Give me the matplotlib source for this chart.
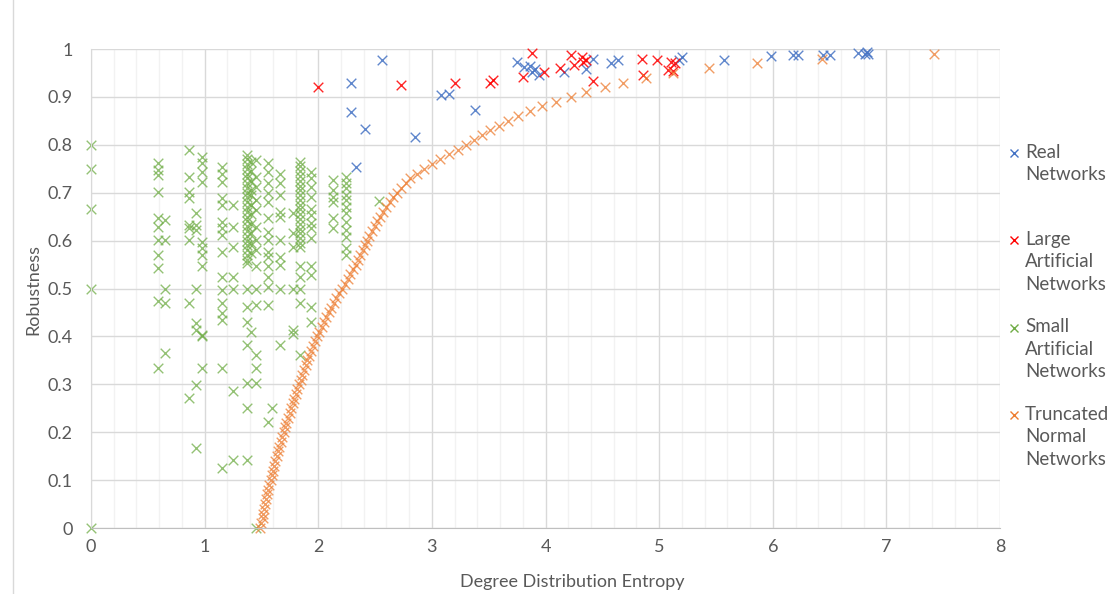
import matplotlib
matplotlib.use("Agg")
import matplotlib.pyplot as plt
from matplotlib.lines import Line2D

plt.rcParams['font.family'] = ['Lato', 'DejaVu Sans']

# Real networks
real_x = [2.29, 2.29, 2.33, 2.41, 2.56, 2.85, 3.08, 3.15, 3.38, 3.75, 3.81, 3.86,
          3.88, 3.91, 3.94, 4.16, 4.36, 4.42, 4.58, 4.64, 5.17, 5.20, 5.57, 5.98,
          6.18, 6.22, 6.44, 6.50, 6.75, 6.81, 6.83, 6.84]
real_y = [0.928, 0.869, 0.754, 0.834, 0.977, 0.816, 0.904, 0.907, 0.873, 0.972, 0.962, 0.964,
          0.953, 0.958, 0.946, 0.951, 0.958, 0.980, 0.970, 0.978, 0.977, 0.984, 0.977, 0.985,
          0.987, 0.987, 0.987, 0.987, 0.992, 0.990, 0.994, 0.989]

# Large artificial networks
large_x = [2.00, 2.73, 3.20, 3.51, 3.54, 3.80, 3.88, 3.99, 4.13, 4.22, 4.25, 4.32,
           4.33, 4.36, 4.42, 4.85, 4.86, 4.98, 5.08, 5.10, 5.12, 5.14]
large_y = [0.921, 0.925, 0.928, 0.928, 0.935, 0.942, 0.991, 0.951, 0.960, 0.987, 0.967, 0.984,
           0.973, 0.978, 0.934, 0.980, 0.946, 0.977, 0.956, 0.973, 0.955, 0.970]

# Small artificial networks, grouped by entropy column
small_x = [0.00, 0.59, 0.65, 0.86, 0.92, 0.98, 1.15, 1.25, 1.37, 1.41, 1.45, 1.56,
           1.59, 1.66, 1.78, 1.84, 1.94, 2.13, 2.24, 2.53]
small_y = [
    [0.80, 0.75, 0.667, 0.50, 0.0],
    [0.761, 0.747, 0.737, 0.702, 0.647, 0.629, 0.601, 0.570, 0.542, 0.473, 0.333],
    [0.643, 0.601, 0.50, 0.469, 0.365],
    [0.789, 0.733, 0.702, 0.688, 0.633, 0.626, 0.601, 0.469, 0.271],
    [0.657, 0.633, 0.622, 0.50, 0.427, 0.413, 0.299, 0.166],
    [0.775, 0.761, 0.744, 0.723, 0.598, 0.584, 0.570, 0.546, 0.403, 0.40, 0.333],
    [0.754, 0.740, 0.723, 0.688, 0.674, 0.639, 0.626, 0.612, 0.577, 0.525, 0.497, 0.469,
     0.448, 0.434, 0.333, 0.125],
    [0.674, 0.629, 0.587, 0.525, 0.50, 0.285, 0.142],
    [0.778, 0.77, 0.76, 0.75, 0.74, 0.73, 0.72, 0.71, 0.70, 0.69, 0.68, 0.67, 0.66, 0.65,
     0.64, 0.63, 0.62, 0.61, 0.60, 0.59, 0.58, 0.57, 0.56, 0.553, 0.50, 0.462, 0.431,
     0.382, 0.302, 0.25, 0.142],
    [0.765, 0.745, 0.725, 0.705, 0.695, 0.675, 0.655, 0.635, 0.615, 0.595, 0.575, 0.41],
    [0.768, 0.733, 0.712, 0.685, 0.664, 0.629, 0.601, 0.580, 0.546, 0.50, 0.466, 0.361,
     0.333, 0.302, 0.0],
    [0.761, 0.744, 0.720, 0.699, 0.681, 0.647, 0.619, 0.601, 0.577, 0.566, 0.546, 0.525,
     0.504, 0.466, 0.222],
    [0.25],
    [0.740, 0.720, 0.695, 0.660, 0.650, 0.601, 0.566, 0.549, 0.50, 0.382],
    [0.657, 0.615, 0.587, 0.50, 0.413, 0.406],
    [0.765, 0.755, 0.745, 0.735, 0.725, 0.715, 0.705, 0.695, 0.685, 0.675, 0.665, 0.655,
     0.645, 0.635, 0.625, 0.615, 0.605, 0.595, 0.587, 0.546, 0.525, 0.50, 0.469, 0.361],
    [0.744, 0.730, 0.712, 0.692, 0.667, 0.653, 0.636, 0.626, 0.605, 0.546, 0.528, 0.462, 0.431],
    [0.727, 0.706, 0.692, 0.681, 0.647, 0.626],
    [0.733, 0.720, 0.709, 0.695, 0.685, 0.671, 0.657, 0.639, 0.622, 0.608, 0.584, 0.570],
    [0.683],
]

# Truncated normal networks
trunc_x = [1.49, 1.50, 1.51, 1.515, 1.52, 1.53, 1.54, 1.55, 1.56, 1.57, 1.58, 1.59,
           1.60, 1.61, 1.62, 1.635, 1.645, 1.655, 1.67, 1.68, 1.695, 1.71, 1.72, 1.735,
           1.75, 1.76, 1.775, 1.79, 1.80, 1.815, 1.83, 1.845, 1.86, 1.875, 1.89, 1.905,
           1.92, 1.94, 1.955, 1.975, 1.99, 2.01, 2.03, 2.05, 2.07, 2.09, 2.11, 2.135,
           2.16, 2.185, 2.21, 2.235, 2.26, 2.28, 2.305, 2.33, 2.35, 2.37, 2.39, 2.41,
           2.43, 2.45, 2.47, 2.495, 2.52, 2.545, 2.57, 2.60, 2.63, 2.66, 2.69, 2.73,
           2.77, 2.81, 2.87, 2.93, 3.00, 3.07, 3.15, 3.23, 3.30, 3.37, 3.44, 3.51,
           3.59, 3.67, 3.76, 3.86, 3.97, 4.09, 4.22, 4.36, 4.52, 4.68, 4.88, 5.12,
           5.44, 5.86, 6.43, 7.42]
trunc_y = [0.00, 0.01, 0.02, 0.03, 0.04, 0.05, 0.06, 0.07, 0.08, 0.09, 0.10, 0.11,
           0.12, 0.13, 0.14, 0.15, 0.16, 0.17, 0.18, 0.19, 0.20, 0.21, 0.22, 0.23,
           0.24, 0.25, 0.26, 0.27, 0.28, 0.29, 0.30, 0.31, 0.32, 0.33, 0.34, 0.35,
           0.36, 0.37, 0.38, 0.39, 0.40, 0.41, 0.42, 0.43, 0.44, 0.45, 0.46, 0.47,
           0.48, 0.49, 0.50, 0.51, 0.52, 0.53, 0.54, 0.55, 0.56, 0.57, 0.58, 0.59,
           0.60, 0.61, 0.62, 0.63, 0.64, 0.65, 0.66, 0.67, 0.68, 0.69, 0.70, 0.71,
           0.72, 0.73, 0.74, 0.75, 0.76, 0.77, 0.78, 0.79, 0.80, 0.81, 0.82, 0.83,
           0.84, 0.85, 0.86, 0.87, 0.88, 0.89, 0.90, 0.91, 0.92, 0.93, 0.94, 0.95,
           0.96, 0.97, 0.98, 0.99]

labels = ["Real\nNetworks", "Large\nArtificial\nNetworks",
          "Small\nArtificial\nNetworks", "Truncated\nNormal\nNetworks"]
colors = ["#4472C4", "#FF0000", "#70AD47", "#ED7D31"]
text_color = "#595959"

sx, sy = [], []
for x, ys in zip(small_x, small_y):
    for y in ys:
        sx.append(x)
        sy.append(y)

fig = plt.figure(figsize=(11.1, 5.94), dpi=100)
ax = fig.add_axes([0.082, 0.1111, 0.819, 0.8064])

kw = dict(marker="x", s=48, linewidths=1.0, clip_on=False)
ax.scatter(real_x, real_y, color=colors[0], alpha=0.85, **kw)
ax.scatter(large_x, large_y, color=colors[1], alpha=0.85, **kw)
ax.scatter(sx, sy, color=colors[2], alpha=0.75, **kw)
ax.scatter(trunc_x, trunc_y, color=colors[3], alpha=0.75, **kw)

ax.set_xlim(0, 8)
ax.set_ylim(0, 1)
ax.set_xticks(range(0, 9))
ax.set_xticks([i * 0.2 for i in range(41)], minor=True)
ax.set_yticks([i / 10 for i in range(11)])
ax.set_yticklabels(["0", "0.1", "0.2", "0.3", "0.4", "0.5", "0.6", "0.7", "0.8", "0.9", "1"])
ax.grid(True, which="major", color="#d9d9d9", linewidth=1)
ax.grid(True, which="minor", axis="x", color="#f2f2f2", linewidth=1)
ax.set_axisbelow(True)
ax.tick_params(which="both", length=0, labelsize=13, colors=text_color)
ax.tick_params(axis="y", pad=13)
ax.tick_params(axis="x", pad=8)
for s in ["top", "right"]:
    ax.spines[s].set_visible(False)
ax.spines["bottom"].set_color("#bfbfbf")
ax.spines["left"].set_color("#d9d9d9")

ax.set_xlabel("Degree Distribution Entropy", fontsize=13, color=text_color)
ax.set_ylabel("Robustness", fontsize=13, color=text_color)
ax.xaxis.set_label_coords((572 - 91) / 909, -0.097)
ax.yaxis.set_label_coords(-0.055, 0.497)

# legend drawn by hand so the marker sits on the first text line
W, H = 1110, 594
entry_tops = [152.5, 240, 327.5, 415]
for top, lab, c in zip(entry_tops, labels, colors):
    fig.add_artist(Line2D([1013.5 / W], [1 - top / H], marker="x", color=c,
                          markersize=6, markeredgewidth=1.0, linestyle="none",
                          transform=fig.transFigure))
    fig.text(1025 / W, 1 - (top - 9) / H, lab, fontsize=13.5, color=text_color,
             va="top", ha="left", linespacing=1.38)

# chart border on the left
fig.add_artist(Line2D([13 / W, 13 / W], [0, 1], color="#d9d9d9", linewidth=1,
                      transform=fig.transFigure))

fig.savefig("out.png", dpi=100)
